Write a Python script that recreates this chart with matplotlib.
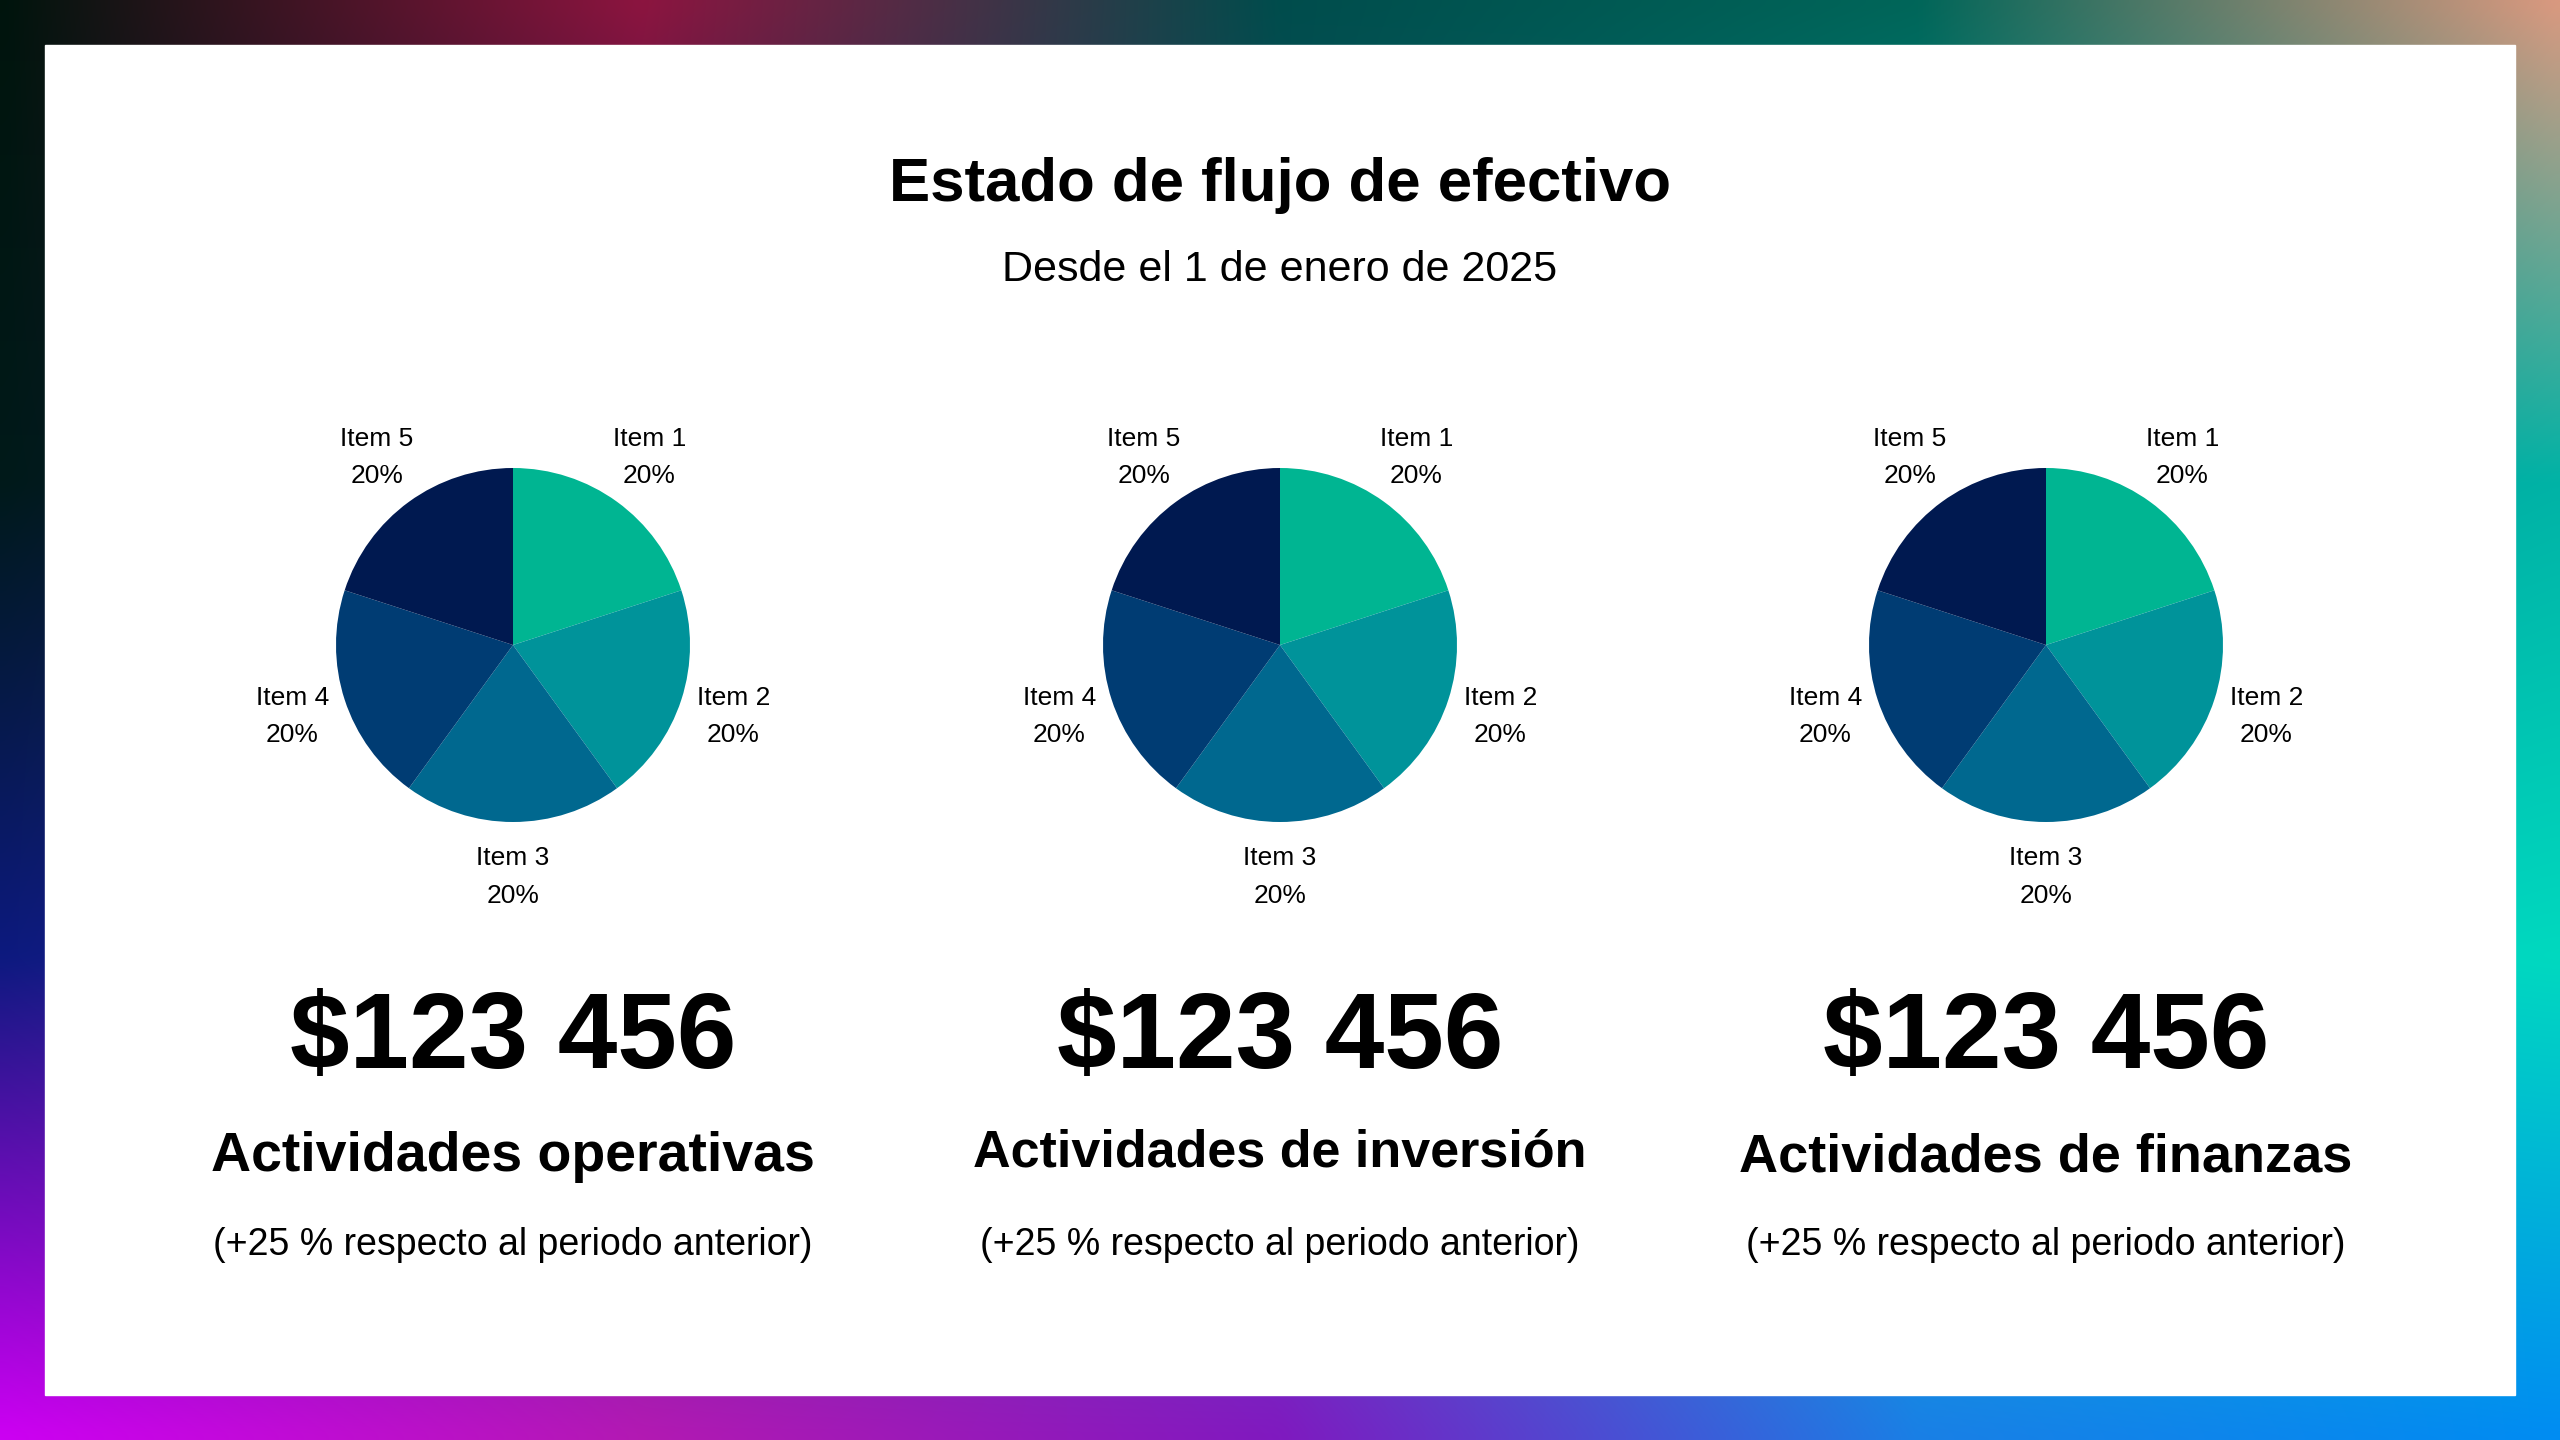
import matplotlib
matplotlib.use("Agg")
import matplotlib.pyplot as plt
import numpy as np

plt.rcParams['font.family'] = ['Liberation Sans', 'DejaVu Sans']

title = "Estado de flujo de efectivo"
subtitle = "Desde el 1 de enero de 2025"
items = ["Item 1", "Item 2", "Item 3", "Item 4", "Item 5"]
values_list = [[20, 20, 20, 20, 20], [20, 20, 20, 20, 20], [20, 20, 20, 20, 20]]
colors = ["#00B592", "#00939A", "#00688F", "#003C73", "#001950"]
amounts = ["$123 456", "$123 456", "$123 456"]
activities = ["Actividades operativas", "Actividades de inversión", "Actividades de finanzas"]
changes = ["(+25 % respecto al periodo anterior)"] * 3

W, H = 2560, 1440
fig = plt.figure(figsize=(25.6, 14.4), dpi=100)

# background gradient
grid = np.array([
    [[0.0,0.08,0.05],[0.55,0.08,0.25],[0.0,0.3,0.3],[0.0,0.4,0.35],[0.85,0.6,0.5]],
    [[0.0,0.1,0.1],[0.1,0.1,0.3],[0.1,0.3,0.4],[0.0,0.6,0.6],[0.0,0.7,0.65]],
    [[0.05,0.1,0.5],[0.2,0.2,0.6],[0.3,0.4,0.8],[0.0,0.8,0.8],[0.0,0.85,0.75]],
    [[0.8,0.0,0.95],[0.7,0.1,0.7],[0.5,0.1,0.75],[0.1,0.5,0.9],[0.0,0.55,0.95]],
])
gy, gx = grid.shape[:2]
yy = np.linspace(0, gy - 1, 144)
xx = np.linspace(0, gx - 1, 256)
img = np.zeros((144, 256, 3))
for c in range(3):
    tmp = np.array([np.interp(xx, np.arange(gx), grid[r, :, c]) for r in range(gy)])
    img[:, :, c] = np.array([np.interp(yy, np.arange(gy), tmp[:, j]) for j in range(256)]).T
bg = fig.add_axes([0, 0, 1, 1])
bg.imshow(img, aspect='auto', extent=[0, 1, 0, 1], interpolation='bicubic')
bg.add_patch(plt.Rectangle((45 / W, 1 - 1395 / H), (2515 - 45) / W, (1395 - 45) / H, color='white'))
bg.set_xlim(0, 1); bg.set_ylim(0, 1); bg.axis('off')

def fy(y): return 1 - y / H

fig.text(1280 / W, fy(185), title, ha='center', va='center', fontsize=44.5, fontweight='bold')
fig.text(1280 / W, fy(270), subtitle, ha='center', va='center', fontsize=31)

centers = [513, 1280, 2046]
act_sizes = [40, 37.5, 39]
R = 177
for i, cx in enumerate(centers):
    ax = fig.add_axes([(cx - R) / W, fy(645 + R), 2 * R / W, 2 * R / H])
    wedges, texts = ax.pie(values_list[i], colors=colors, startangle=90, counterclock=False,
           labels=[f"{it}\n{v}%" for it, v in zip(items, values_list[i])],
           labeldistance=1.31, textprops=dict(fontsize=19, ha='center', va='center', linespacing=1.7),
           wedgeprops=dict(linewidth=0))
    for t in texts:
        t.set_clip_on(False)
    ax.set_xlim(-1, 1); ax.set_ylim(-1, 1)
    ax.set_aspect('equal')
    ax.axis('off')
    fig.text(cx / W, fy(1040), amounts[i], ha='center', va='center', fontsize=77, fontweight='bold')
    fig.text(cx / W, fy(1157 if i != 1 else 1153), activities[i], ha='center', va='center', fontsize=act_sizes[i], fontweight='bold')
    fig.text(cx / W, fy(1245), changes[i], ha='center', va='center', fontsize=27)

fig.savefig("out.png", dpi=100)
